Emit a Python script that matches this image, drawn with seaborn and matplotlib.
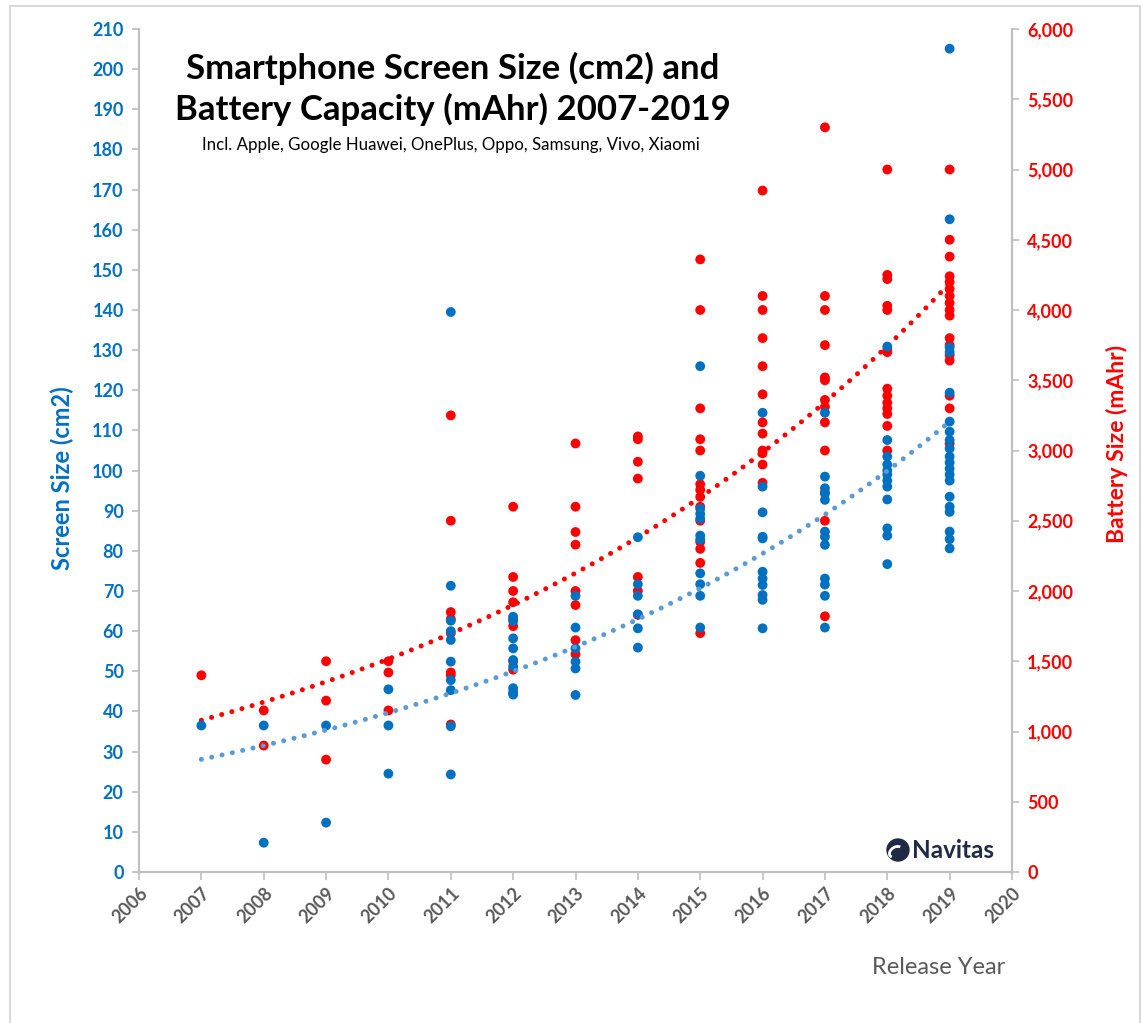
import numpy as np
import pandas as pd
import matplotlib
matplotlib.use("Agg")
import matplotlib.pyplot as plt
import seaborn as sns
from matplotlib.patches import Circle, Arc, Rectangle
from matplotlib.ticker import FuncFormatter

# screen size (cm2) per release year
scr_2007 = [36.5]
scr_2008 = [36.5, 7.3]
scr_2009 = [36.5, 12.3]
scr_2010 = [45.5, 36.5, 24.5]
scr_2011 = [139.5, 71.3, 62.6, 60.0, 57.8, 52.4, 47.8, 45.3, 36.3, 24.3]
scr_2012 = [63.6, 62.5, 58.2, 55.7, 52.8, 51.2, 45.8, 44.8, 44.2]
scr_2013 = [68.8, 60.9, 55.7, 52.4, 50.7, 44.1]
scr_2014 = [83.4, 71.7, 68.8, 64.2, 60.7, 55.9]
scr_2015 = [126.0, 98.7, 90.5, 89.2, 88.0, 83.8, 82.8, 74.4, 71.7, 68.8, 60.9]
scr_2016 = [114.4, 96.0, 89.6, 83.5, 83.1, 74.8, 73.1, 71.5, 69.0, 67.8, 60.7]
scr_2017 = [114.4, 98.5, 95.6, 94.3, 92.7, 84.8, 83.5, 81.5, 73.1, 71.6, 68.8, 60.9]
scr_2018 = [130.9, 107.6, 103.5, 101.5, 100.0, 99.0, 97.5, 96.0, 92.8, 85.6, 83.8, 76.7]
scr_2019 = [205.1, 162.6, 130.7, 129.5, 119.4, 112.2, 109.7, 107.6, 105.5, 103.5,
            102.0, 100.5, 99.0, 97.5, 93.5, 91.0, 89.7, 84.8, 82.9, 80.6]

# battery capacity (mAh) per release year
bat_2007 = [1400]
bat_2008 = [1150, 900]
bat_2009 = [1500, 1220, 800]
bat_2010 = [1500, 1420, 1150]
bat_2011 = [3250, 2500, 1850, 1800, 1700, 1420, 1400, 1050]
bat_2012 = [2600, 2100, 2000, 1920, 1800, 1750, 1500, 1440]
bat_2013 = [3050, 2600, 2420, 2330, 2000, 1900, 1650, 1550]
bat_2014 = [3100, 3080, 2920, 2800, 2100, 2000, 1830]
bat_2015 = [4360, 4000, 3300, 3080, 3000, 2760, 2720, 2670, 2600, 2500, 2350, 2300, 2200, 1700]
bat_2016 = [4850, 4100, 4000, 3800, 3600, 3400, 3200, 3120, 3000, 2980, 2900, 2770]
bat_2017 = [5300, 4100, 4000, 3750, 3520, 3500, 3360, 3310, 3200, 3000, 2700, 2500, 1820]
bat_2018 = [5000, 4250, 4220, 4030, 4000, 3715, 3700, 3440, 3390, 3340, 3300, 3260, 3175, 3000]
bat_2019 = [5000, 4500, 4380, 4240, 4200, 4150, 4100, 4050, 4000, 3960, 3800, 3750,
            3680, 3640, 3390, 3300, 3050]

years = list(range(2007, 2020))
screens = [scr_2007, scr_2008, scr_2009, scr_2010, scr_2011, scr_2012, scr_2013,
           scr_2014, scr_2015, scr_2016, scr_2017, scr_2018, scr_2019]
batteries = [bat_2007, bat_2008, bat_2009, bat_2010, bat_2011, bat_2012, bat_2013,
             bat_2014, bat_2015, bat_2016, bat_2017, bat_2018, bat_2019]

scr_df = pd.DataFrame([(y, v) for y, vals in zip(years, screens) for v in vals],
                      columns=["year", "screen"])
bat_df = pd.DataFrame([(y, v) for y, vals in zip(years, batteries) for v in vals],
                      columns=["year", "battery"])

BLUE = "#0070C0"
RED = "#FF0000"
GRAY = "#595959"

sns.set_style("white")
plt.rcParams["font.family"] = ["Lato", "DejaVu Sans"]

fig = plt.figure(figsize=(11.47, 10.23), dpi=100)
ax = fig.add_axes([139 / 1147, 151 / 1023, 873 / 1147, 843 / 1023])
ax2 = ax.twinx()
ax.set_zorder(ax2.get_zorder() + 1)
ax.patch.set_visible(False)

# exponential trendlines (like Excel)
xt = np.linspace(2007, 2019, 100)
cs = np.polyfit(scr_df["year"], np.log(scr_df["screen"]), 1)
cb = np.polyfit(bat_df["year"], np.log(bat_df["battery"]), 1)
ax2.plot(xt, np.exp(np.polyval(cb, xt)), color=RED, lw=3.6,
         linestyle=(0, (0.01, 2.1)), dash_capstyle="round", zorder=3)
sns.scatterplot(data=bat_df, x="year", y="battery", ax=ax2, color=RED, s=50,
                edgecolor="none", zorder=2)
sns.scatterplot(data=scr_df, x="year", y="screen", ax=ax, color=BLUE, s=50,
                edgecolor="none", zorder=2)
ax.plot(xt, np.exp(np.polyval(cs, xt)), color="#5B9BD5", lw=3.6,
        linestyle=(0, (0.01, 2.1)), dash_capstyle="round", zorder=3)

ax.set_xlim(2006, 2020)
ax.set_ylim(0, 210)
ax2.set_ylim(0, 6000)
ax.set_xticks(range(2006, 2021))
ax.set_yticks(range(0, 211, 10))
ax2.set_yticks(range(0, 6001, 500))
ax2.yaxis.set_major_formatter(FuncFormatter(lambda v, p: f"{int(v):,}"))

for a in (ax, ax2):
    for s in a.spines.values():
        s.set_color("#BFBFBF")
        s.set_linewidth(1.5)
    a.spines["top"].set_visible(False)
    a.set_xlabel("")
    a.set_ylabel("")

ax.tick_params(axis="y", colors="#BFBFBF", labelcolor=BLUE, labelsize=13,
               length=5, width=1.2, left=True, pad=6)
ax2.tick_params(axis="y", colors="#BFBFBF", labelcolor=RED, labelsize=13,
                length=5, width=1.2, right=True, pad=6)
ax.tick_params(axis="x", colors="#BFBFBF", labelcolor=GRAY, labelsize=13,
               length=6, width=1.2, bottom=True, pad=3)
for t in ax.get_yticklabels() + ax2.get_yticklabels() + ax.get_xticklabels():
    t.set_fontweight("bold")
for t in ax.get_xticklabels():
    t.set_rotation(45)
    t.set_ha("right")
    t.set_rotation_mode("anchor")

fig.text(62 / 1147, 1 - 478 / 1023, "Screen Size (cm2)", rotation=90, color=BLUE,
         fontsize=17, fontweight="bold", ha="center", va="center")
fig.text(1117 / 1147, 1 - 444 / 1023, "Battery Size (mAhr)", rotation=90, color=RED,
         fontsize=16.5, fontweight="bold", ha="center", va="center")
fig.text(1005 / 1147, 1 - 967 / 1023, "Release Year", color=GRAY, fontsize=17,
         ha="right", va="center")

fig.text(453 / 1147, 1 - 89 / 1023,
         "Smartphone Screen Size (cm2) and\nBattery Capacity (mAhr) 2007-2019",
         fontsize=25, fontweight="bold", color="black", ha="center", va="center",
         linespacing=1.3)
fig.text(451 / 1147, 1 - 145 / 1023,
         "Incl. Apple, Google Huawei, OnePlus, Oppo, Samsung, Vivo, Xiaomi",
         fontsize=12.2, color="black", ha="center", va="center")

# Navitas logo
NAVY = "#1F2A44"
fig.add_artist(Circle((8.98, 10.23 - 8.50), 0.11, transform=fig.dpi_scale_trans,
                      color=NAVY, zorder=10))
fig.add_artist(Arc((8.96, 10.23 - 8.52), 0.14, 0.1, angle=30, theta1=20, theta2=200,
                   transform=fig.dpi_scale_trans, color="white", lw=2, zorder=11))
fig.text(912 / 1147, 1 - 850 / 1023, "Navitas", color=NAVY, fontsize=17.5,
         fontweight="bold", ha="left", va="center")

# outer frame
fig.add_artist(Rectangle((10 / 1147, -0.01), 1130 / 1147, 1 - 6 / 1023 + 0.01,
                         transform=fig.transFigure, fill=False, edgecolor="#D9D9D9",
                         lw=1.5))

fig.savefig("out.png", dpi=100)
